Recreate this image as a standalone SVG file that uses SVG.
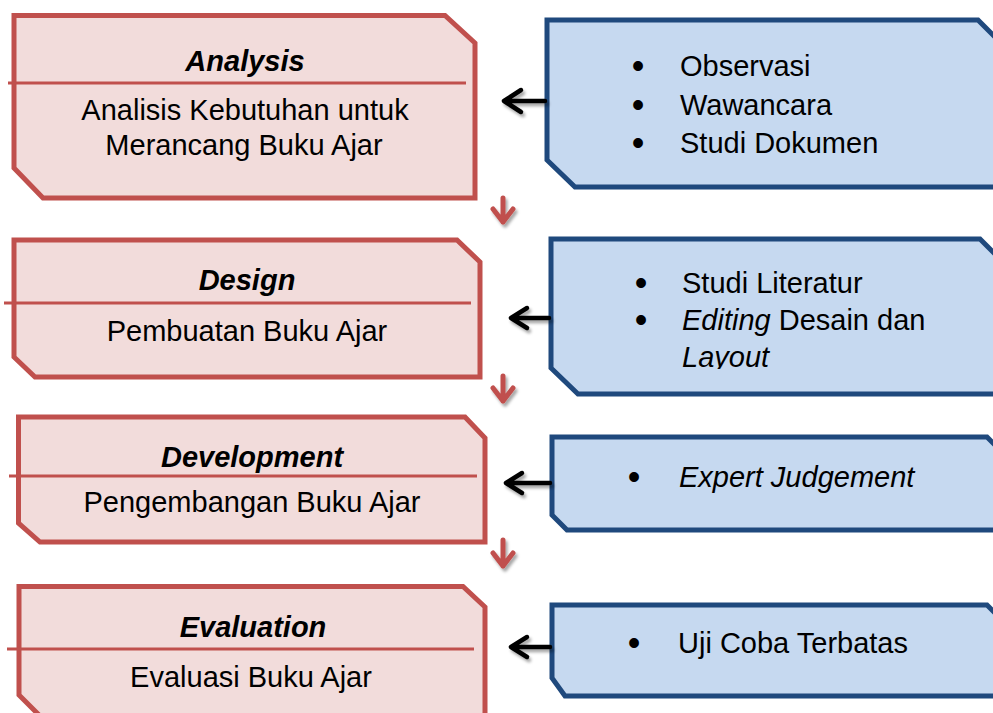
<svg xmlns="http://www.w3.org/2000/svg" width="993" height="713" viewBox="0 0 993 713">
<style>
.rb{fill:#f2dcdb;stroke:#c0504d;stroke-width:5;stroke-linejoin:miter}
.bb{fill:#c6d9f0;stroke:#1f497d;stroke-width:5;stroke-linejoin:miter}
.div{stroke:#c0504d;stroke-width:3;fill:none}
.t{font-family:"Liberation Sans",Arial,sans-serif;font-size:29px;fill:#000}
.tt{font-weight:bold;font-style:italic}
.c{text-anchor:middle}
.bl{font-family:"Liberation Sans",Arial,sans-serif;font-size:36px;fill:#000;text-anchor:middle}
.ar{fill:none;stroke:#000;stroke-width:4.5;stroke-linecap:round;stroke-linejoin:round}
.dr{fill:none;stroke:#c0504d;stroke-width:5;stroke-linecap:round;stroke-linejoin:round}
</style>
<defs>
<filter id="sh" x="-50%" y="-50%" width="200%" height="200%">
<feDropShadow dx="2" dy="3" stdDeviation="1.8" flood-color="#000" flood-opacity="0.35"/>
</filter>
<clipPath id="clipLayout"><rect x="540" y="230" width="460" height="139"/></clipPath>
<clipPath id="clipDev"><rect x="0" y="400" width="500" height="119"/></clipPath>
</defs>
<rect width="993" height="713" fill="#fff"/>

<g id="analysis">
<path class="rb" d="M14,15.5 L445,15.5 L475,43 L475,198 L43,198 L14,168 Z"/>
<path class="div" d="M8,83 H466"/>
<text class="t tt c" x="245" y="71">Analysis</text>
<text class="t c" x="245" y="120">Analisis Kebutuhan untuk</text>
<text class="t c" x="244" y="155">Merancang Buku Ajar</text>
</g>

<g id="design">
<path class="rb" d="M14,240 L457,240 L480,262 L480,377 L35,377 L14,357 Z"/>
<path class="div" d="M4,303 H471"/>
<text class="t tt c" x="247" y="290">Design</text>
<text class="t c" x="247" y="341">Pembuatan Buku Ajar</text>
</g>

<g id="development">
<path class="rb" d="M18.5,417 L465,417 L485,438 L485,542 L40,542 L18.5,523 Z"/>
<path class="div" d="M9,476 H477"/>
<text class="t tt c" x="252" y="467">Development</text>
<g clip-path="url(#clipDev)"><text class="t c" x="252" y="512">Pengembangan Buku Ajar</text></g>
</g>

<g id="evaluation">
<path class="rb" d="M19,586.5 L463,586.5 L485,607 L485,740 L64,740 L19,695 Z"/>
<path class="div" d="M7,649 H474"/>
<text class="t tt c" x="253" y="637">Evaluation</text>
<text class="t c" x="251" y="687">Evaluasi Buku Ajar</text>
</g>

<g id="methods-analysis">
<path class="bb" d="M547,20 L978,20 L1006,48 L1006,187 L575,187 L547,160 Z"/>
<text class="bl" x="638" y="78">•</text>
<text class="t" x="680" y="76">Observasi</text>
<text class="bl" x="638" y="117">•</text>
<text class="t" x="680" y="115">Wawancara</text>
<text class="bl" x="638" y="155">•</text>
<text class="t" x="680" y="153">Studi Dokumen</text>
</g>

<g id="methods-design">
<path class="bb" d="M551,239 L980,239 L1008,267 L1008,394 L578,394 L551,368 Z"/>
<text class="bl" x="641" y="295">•</text>
<text class="t" x="682" y="293">Studi Literatur</text>
<text class="bl" x="641" y="332">•</text>
<text class="t" x="682" y="330"><tspan font-style="italic">Editing</tspan> Desain dan</text>
<g clip-path="url(#clipLayout)"><text class="t" x="682" y="367" font-style="italic">Layout</text></g>
</g>

<g id="methods-development">
<path class="bb" d="M552,437 L987,437 L1005,455 L1005,530 L567,530 L552,515 Z"/>
<text class="bl" x="634" y="489">•</text>
<text class="t" x="679" y="487" font-style="italic">Expert Judgement</text>
</g>

<g id="methods-evaluation">
<path class="bb" d="M552,605 L987,605 L1005,623 L1005,696 L565,696 L552,678 Z"/>
<text class="bl" x="634" y="655">•</text>
<text class="t" x="678" y="653">Uji Coba Terbatas</text>
</g>

<g id="connectors" filter="url(#sh)">
<path class="ar" d="M545,101 H504 M521,90 L504,101 L521,112"/>
<path class="ar" d="M549,318 H511 M527,308 L511,318 L527,328"/>
<path class="ar" d="M550,483 H506 M522,473 L506,483 L522,493"/>
<path class="ar" d="M550,647 H511 M527,637 L511,647 L527,657"/>
<path class="dr" d="M503,198 V222 M493,209 L503,222 L513,209"/>
<path class="dr" d="M503,376 V401 M493,388 L503,401 L513,388"/>
<path class="dr" d="M503,540 V566 M493,553 L503,566 L513,553"/>
</g>
</svg>
